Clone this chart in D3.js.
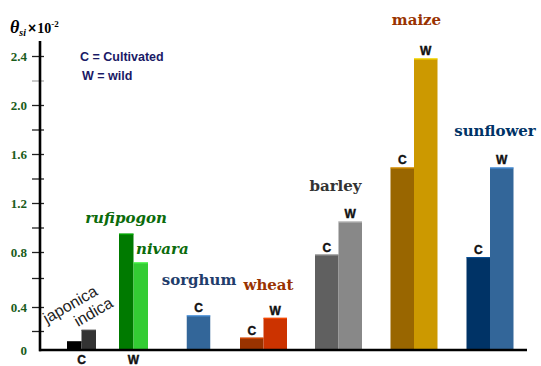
<!DOCTYPE html>
<html>
<head>
<meta charset="utf-8">
<script src="https://cdn.jsdelivr.net/npm/d3@7/dist/d3.min.js"></script>
<style>
  html, body { margin: 0; padding: 0; background: #fff; }
  svg { display: block; }
</style>
</head>
<body>
<svg id="chart" width="541" height="366"></svg>
<script>
// ---------------- DATA ----------------
const groupNames = ["rice-C", "rice-W", "sorghum", "wheat", "barley", "maize", "sunflower"];
const barGroups  = ["rice-C", "rice-C", "rice-W", "rice-W", "sorghum", "wheat", "wheat", "barley", "barley", "maize", "maize", "sunflower", "sunflower"];
const barKeys    = ["japonica", "indica", "rufipogon", "nivara", "C", "C", "W", "C", "W", "C", "W", "C", "W"];
const barValues  = [0.09, 0.21, 0.95, 0.72, 0.33, 0.13, 0.31, 0.78, 1.05, 1.49, 2.38, 0.76, 1.49];
const yTicks     = [0, 0.2, 0.4, 0.6, 0.8, 1.0, 1.2, 1.4, 1.6, 1.8, 2.0, 2.2, 2.4];
const majorTicks = [0, 0.4, 0.8, 1.2, 1.6, 2.0, 2.4];
const majorLabels = ["0", "0.4", "0.8", "1.2", "1.6", "2.0", "2.4"];
const cropLabels = ["rufipogon", "nivara", "sorghum", "wheat", "barley", "maize", "sunflower"];
const cropGroups = ["rice-W", "rice-W", "sorghum", "wheat", "barley", "maize", "sunflower"];
const riceLabels = ["japonica", "indica"];
const legendLines = ["C = Cultivated", "W = wild"];

// ---------------- STYLE ----------------
const barColors = {
  "rice-C": ["#000000", "#333333"],
  "rice-W": ["#007a00", "#33cc33"],
  "sorghum": ["#336699"],
  "wheat": ["#993300", "#cc3300"],
  "barley": ["#606060", "#888888"],
  "maize": ["#996600", "#cc9900"],
  "sunflower": ["#003366", "#336699"]
};
const labelStyle = {
  rufipogon: { dx: -7.5, dy: -11, anchor: "middle", italic: true, color: "#0b6b0b", ref: 0.95 },
  nivara:    { dx: 2.5,  dy: -8,  anchor: "start",  italic: true, color: "#0b6b0b", ref: 0.72 },
  sorghum:   { dx: 0.5,  dy: -30, anchor: "middle", color: "#1f3d6b" },
  wheat:     { dx: 5,    dy: -28, anchor: "middle", color: "#993300" },
  barley:    { dx: -3,   dy: -30, anchor: "middle", color: "#333333" },
  maize:     { dx: 2.5,  dy: -33, anchor: "middle", color: "#993300" },
  sunflower: { dx: 5,    dy: -31, anchor: "middle", color: "#003366" }
};

const svg = d3.select("#chart");

// ---------------- SCALES ----------------
const y = d3.scaleLinear()
  .domain([0, 0.2, 0.4, 0.6, 0.8, 2.4])
  .range([350, 331, 307, 278, 252, 56]);

const groupX = d3.scaleOrdinal()
  .domain(groupNames)
  .range([81.5, 133.5, 198.5, 263.5, 338.5, 414, 490]);

const barWidth = g => (g.startsWith("rice") ? 14.5 : 23.5);

// build bar records
const bars = barValues.map((v, i) => ({ group: barGroups[i], key: barKeys[i], value: v }));
const groupCounts = d3.rollup(bars, v => v.length, d => d.group);
const seen = {};
bars.forEach(b => {
  b.idx = seen[b.group] = (seen[b.group] === undefined ? 0 : seen[b.group] + 1);
  const n = groupCounts.get(b.group);
  const w = barWidth(b.group);
  const inner = d3.scaleBand().domain(d3.range(n)).range([-n * w / 2, n * w / 2]);
  b.x0 = groupX(b.group) + inner(b.idx);
  b.w = inner.bandwidth();
  b.color = barColors[b.group][b.idx];
});

// ---------------- TITLE (axis label) ----------------
const tt = svg.append("text")
  .attr("x", 10).attr("y", 33)
  .attr("font-family", "Liberation Serif")
  .attr("font-weight", "bold")
  .attr("fill", "#000");
tt.append("tspan").attr("font-style", "italic").attr("font-size", 18).text("θ");
tt.append("tspan").attr("font-style", "italic").attr("font-size", 10).attr("dy", 3).text("si");
tt.append("tspan").attr("font-family", "Liberation Sans").attr("font-size", 14).attr("dy", -3).attr("dx", 2).text("×");
tt.append("tspan").attr("font-size", 14).attr("dx", 1).text("10");
tt.append("tspan").attr("font-size", 9).attr("dy", -6).text("-2");

// ---------------- LEGEND ----------------
svg.selectAll("text.legend").data(legendLines).join("text")
  .attr("class", "legend")
  .attr("x", (d, i) => 80 + i * 2)
  .attr("y", (d, i) => 61 + i * 19)
  .attr("font-family", "Liberation Sans")
  .attr("font-weight", "bold")
  .attr("font-size", 12.5)
  .attr("fill", "#1a1a66")
  .text(d => d);

// ---------------- Y AXIS ----------------
const axis = d3.axisLeft(y)
  .tickValues(yTicks)
  .tickSize(8)
  .tickPadding(5)
  .tickFormat(d => {
    const k = majorTicks.findIndex(m => Math.abs(m - d) < 1e-9);
    return k >= 0 ? majorLabels[k] : "";
  });

const gAxis = svg.append("g").attr("transform", "translate(40,0)").call(axis);
gAxis.select(".domain").remove();
gAxis.selectAll(".tick line")
  .attr("x1", 4).attr("x2", -8)
  .attr("stroke", d => (Math.abs(d - 2.2) < 1e-9 ? "#aaaaaa" : "#222"))
  .attr("stroke-width", 1.3)
  .attr("display", d => (d === 0 ? "none" : null));
gAxis.selectAll(".tick text")
  .attr("font-family", "Liberation Serif")
  .attr("font-weight", "bold")
  .attr("font-size", 13)
  .attr("fill", "#1a5c1a");

// axis line
svg.append("line")
  .attr("x1", 40).attr("x2", 40)
  .attr("y1", 41).attr("y2", y(0) + 1.2)
  .attr("stroke", "#000").attr("stroke-width", 2.6);

// ---------------- BARS ----------------
const gBars = svg.append("g");
gBars.selectAll("rect.bar").data(bars).join("rect")
  .attr("class", "bar")
  .attr("x", d => d.x0)
  .attr("width", d => d.w)
  .attr("y", d => y(d.value))
  .attr("height", d => y(0) - y(d.value))
  .attr("fill", d => d.color);
gBars.selectAll("line.hl").data(bars).join("line")
  .attr("class", "hl")
  .attr("x1", d => d.x0).attr("x2", d => d.x0 + d.w)
  .attr("y1", d => y(d.value) + 0.5).attr("y2", d => y(d.value) + 0.5)
  .attr("stroke", d => d3.color(d.color).brighter(1.2).formatHex())
  .attr("stroke-width", 1);

// baseline
svg.append("line")
  .attr("x1", 39).attr("x2", 527)
  .attr("y1", y(0)).attr("y2", y(0))
  .attr("stroke", "#000").attr("stroke-width", 2.6);

// C / W labels above bars
svg.selectAll("text.cw").data(bars.filter(b => b.key === "C" || b.key === "W")).join("text")
  .attr("class", "cw")
  .attr("x", d => d.x0 + d.w / 2)
  .attr("y", d => y(d.value) - 3)
  .attr("text-anchor", "middle")
  .attr("font-family", "Liberation Sans")
  .attr("font-weight", "bold")
  .attr("font-size", 12)
  .attr("fill", "#111")
  .attr("stroke", "#111").attr("stroke-width", 0.4)
  .text(d => d.key);

// rice C / W labels below axis
svg.selectAll("text.ricecw").data(["rice-C", "rice-W"]).join("text")
  .attr("class", "ricecw")
  .attr("x", d => groupX(d))
  .attr("y", 364)
  .attr("text-anchor", "middle")
  .attr("font-family", "Liberation Sans")
  .attr("font-weight", "bold")
  .attr("font-size", 12)
  .attr("fill", "#111")
  .attr("stroke", "#111").attr("stroke-width", 0.4)
  .text(d => (d === "rice-C" ? "C" : "W"));

// crop labels
const groupMax = d3.rollup(bars, v => d3.max(v, b => b.value), b => b.group);
svg.selectAll("text.crop").data(cropLabels.map((c, i) => ({ name: c, group: cropGroups[i] }))).join("text")
  .attr("class", "crop")
  .attr("x", d => groupX(d.group) + labelStyle[d.name].dx)
  .attr("y", d => y(labelStyle[d.name].ref !== undefined ? labelStyle[d.name].ref : groupMax.get(d.group)) + labelStyle[d.name].dy)
  .attr("text-anchor", d => labelStyle[d.name].anchor)
  .attr("font-family", "DejaVu Serif")
  .attr("font-weight", "bold")
  .attr("font-style", d => (labelStyle[d.name].italic ? "italic" : "normal"))
  .attr("font-size", 15)
  .attr("fill", d => labelStyle[d.name].color)
  .text(d => d.name);

// rotated rice labels
const ricePos = [[47, 324], [78, 327]];
svg.selectAll("text.rice").data(riceLabels).join("text")
  .attr("class", "rice")
  .attr("transform", (d, i) => `translate(${ricePos[i][0]},${ricePos[i][1]}) rotate(-30)`)
  .attr("font-family", "Liberation Sans")
  .attr("font-size", 16)
  .attr("fill", "#222")
  .text(d => d);
</script>
</body>
</html>
